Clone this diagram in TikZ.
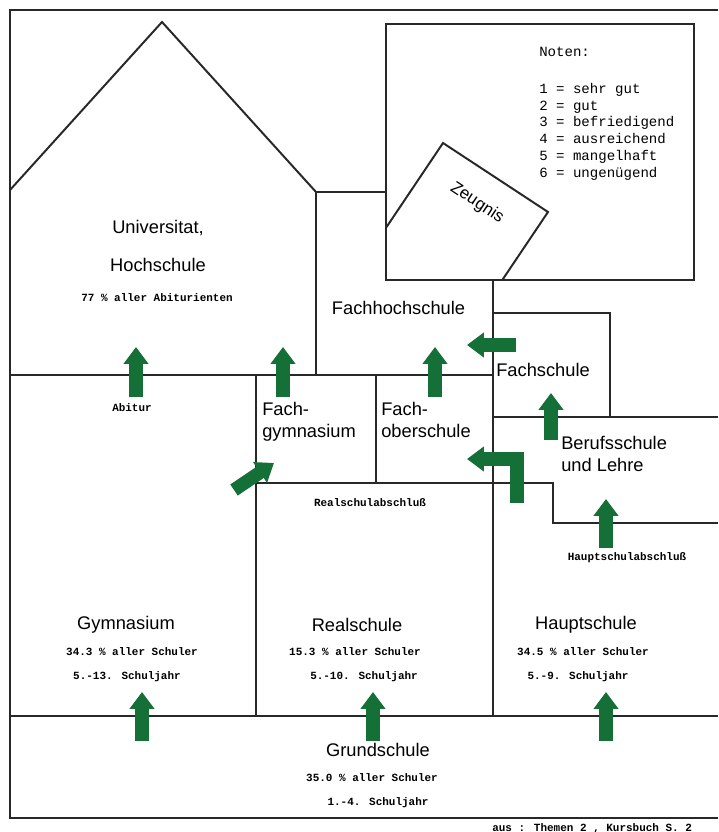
\documentclass[tikz,border=0pt]{standalone}
\usepackage{fontspec}
\setmainfont{Liberation Sans}
\newfontfamily\notenfont{Liberation Mono}
\usepackage{tikz}
\usetikzlibrary{arrows.meta}
\usetikzlibrary{calc}

\definecolor{gruen}{RGB}{20,112,55}
\definecolor{linie}{RGB}{40,40,40}

\begin{document}
\begin{tikzpicture}[x=0.025cm,y=-0.025cm,
	wand/.style={line width=1.4pt, draw=linie, line join=miter},
	gross/.style={font=\fontsize{13}{15}\selectfont},
	fach/.style={font=\fontsize{13}{15.5}\selectfont, align=left, anchor=north west, inner sep=0pt},
	klein/.style={font=\notenfont\bfseries\fontsize{7.8}{9}\selectfont},
	pfeil/.style={line width=9.5pt, draw=gruen, -{Triangle[length=12pt,width=17pt]}}]
	
	\useasboundingbox (0,0) rectangle (718,832);
	
	% Zeugnis
	\begin{scope}
		\clip (386,24) rectangle (694,280);
		\draw[wand, fill=white] (443,143) -- (548,212) -- (464,337) -- (359,268) -- cycle;
	\end{scope}
	\node[rotate=-33.3, font=\fontsize{12}{14}\selectfont, inner sep=1pt] (zeugnis) at (477,203) {Zeugnis};
	
	% Waende
	\draw[wand] (718,10) -- (10,10) -- (10,818) -- (718,818);
	\draw[wand] (10,190) -- (162,22) -- (316,192) -- (316,375);
	\draw[wand] (316,192) -- (386,192);
	\draw[wand] (386,24) rectangle (694,280);
	\draw[wand] (493,280) -- (493,716);
	\draw[wand] (10,375) -- (493,375);
	\draw[wand] (493,313) -- (610,313) -- (610,417);
	\draw[wand] (493,417) -- (718,417);
	\draw[wand] (256,375) -- (256,716);
	\draw[wand] (376,375) -- (376,483);
	\draw[wand] (256,483) -- (553,483) -- (553,523) -- (718,523);
	\draw[wand] (10,716) -- (718,716);
	
	\node[font=\notenfont\fontsize{10}{12}\selectfont, align=left, anchor=north west, inner sep=0pt] (noten) at (539,47)
		{Noten:\\[14pt]1 = sehr gut\\2 = gut\\3 = befriedigend\\4 = ausreichend\\5 = mangelhaft\\6 = ungenügend};
	
	\node[gross] (uni) at (158,228) {Universitat,};
	\node[gross] (hoch) at (158,265) {Hochschule};
	\node[klein] (abiquote) at (157,298) {77 \% aller Abiturienten};
	\node[klein] (abitur) at (132,408) {Abitur};
	
	\node[gross, anchor=west] (fhs) at (327,308) {Fachhochschule};
	\node[fach] (fachgym) at (262,402) {Fach-\\gymnasium};
	\node[fach] (fachober) at (381,402) {Fach-\\oberschule};
	\node[gross, anchor=west, inner sep=0pt] (fachschule) at (496,370) {Fachschule};
	\node[fach] (beruf) at (561,436) {Berufsschule\\und Lehre};
	
	\node[klein] (rsabschluss) at (370,503) {Realschulabschluß};
	\node[klein] (hsabschluss) at (627,558) {Hauptschulabschluß};
	
	\node[gross] (gym) at (126,625) {Gymnasium};
	\node[klein] (gymquote) at (132,652) {34.3 \% aller Schuler};
	\node[klein] (gymjahr) at (127,677) {5.-13. Schuljahr};
	
	\node[gross] (real) at (357,625) {Realschule};
	\node[klein] (realquote) at (355,652) {15.3 \% aller Schuler};
	\node[klein] (realjahr) at (364,677) {5.-10. Schuljahr};
	
	\node[gross] (haupt) at (586,625) {Hauptschule};
	\node[klein] (hauptquote) at (583,652) {34.5 \% aller Schuler};
	\node[klein] (hauptjahr) at (578,677) {5.-9. Schuljahr};
	
	\node[gross] (grund) at (378,750) {Grundschule};
	\node[klein] (grundquote) at (372,778) {35.0 \% aller Schuler};
	\node[klein] (grundjahr) at (378,803) {1.-4. Schuljahr};
	
	\node[klein, anchor=west, inner sep=0pt] (quelle) at (492,828) {aus :  Themen 2 , Kursbuch S. 2};
	
	% Pfeile
	\coordinate (abi0) at (136,397);
	\coordinate (abi1) at (136,347);
	\coordinate (fg0) at (283,397);
	\coordinate (fg1) at (283,347);
	\coordinate (fo0) at (435,397);
	\coordinate (fo1) at (435,347);
	\coordinate (fs0) at (516,345);
	\coordinate (fs1) at (467,345);
	\coordinate (bs0) at (551,440);
	\coordinate (bs1) at (551,393);
	\coordinate (rs0) at (234,490);
	\coordinate (rs1) at (274,463);
	\coordinate (rk0) at (517,503);
	\coordinate (rk1) at (467,459);
	\coordinate (hs0) at (606,548);
	\coordinate (hs1) at (606,499);
	
	\draw[pfeil] (abi0) -- (abi1);
	\draw[pfeil] (fg0) -- (fg1);
	\draw[pfeil] (fo0) -- (fo1);
	\draw[pfeil] (fs0) -- (fs1);
	\draw[pfeil] (bs0) -- (bs1);
	\draw[pfeil] (rs0) -- (rs1);
	\draw[pfeil] (rk0) |- (rk1);
	\draw[pfeil] (hs0) -- (hs1);
	
	\foreach \x in {142,373,606}
		\draw[pfeil] (\x,741) -- (\x,692);
	
\end{tikzpicture}
\end{document}
